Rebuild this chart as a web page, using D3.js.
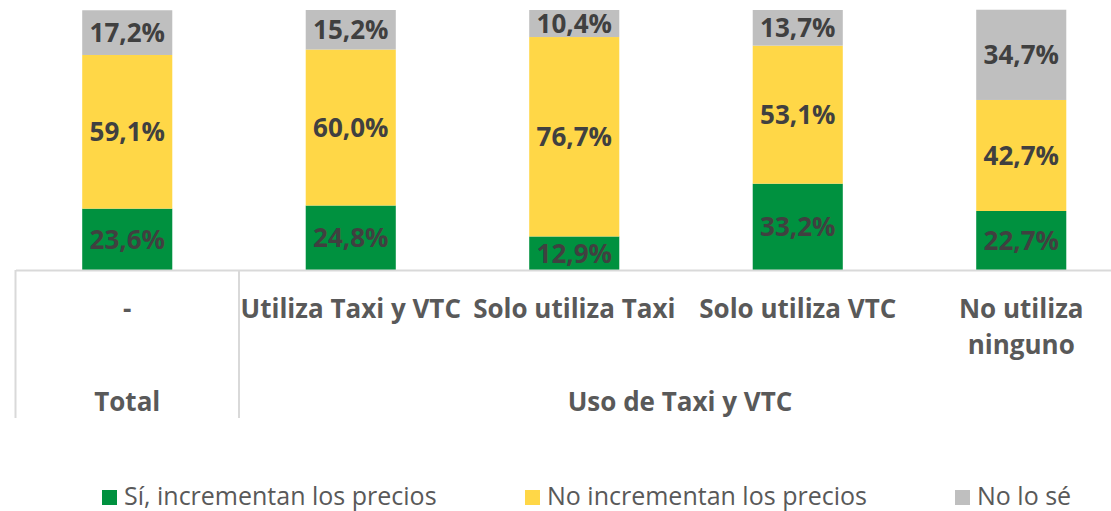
<!DOCTYPE html>
<html>
<head>
<meta charset="utf-8">
<script src="https://cdn.jsdelivr.net/npm/d3@7"></script>
<style>
  body { margin: 0; background: #fff; }
  svg { display: block; font-family: "Open Sans", sans-serif; }
</style>
</head>
<body>
<svg id="chart" width="1111" height="511"></svg>
<script>
// data
const categories = ["-", "Utiliza Taxi y VTC", "Solo utiliza Taxi", "Solo utiliza VTC", "No utiliza ninguno"];
const groupNames = ["Total", "Uso de Taxi y VTC"];
const groupSpans = [1, 4];
const seriesNames = ["Sí, incrementan los precios", "No incrementan los precios", "No lo sé"];
const siValues = [23.6, 24.8, 12.9, 33.2, 22.7];
const noValues = [59.1, 60.0, 76.7, 53.1, 42.7];
const nsValues = [17.2, 15.2, 10.4, 13.7, 34.7];

const colors = ["#00913f", "#ffd747", "#bfbfbf"];
const fmt = v => d3.format(".1f")(v).replace(".", ",") + "%";

const svg = d3.select("#chart");
const step = 223.5;
const x0 = 15.5;
const baseY = 270;

const x = d3.scaleBand()
    .domain(categories)
    .range([x0, x0 + step * categories.length])
    .paddingInner(0.597)
    .paddingOuter(0.2985);

const y = d3.scaleLinear().domain([0, 100]).range([baseY, 10]);

const rows = categories.map((c, i) => ({cat: c, si: siValues[i], no: noValues[i], ns: nsValues[i]}));
const stack = d3.stack().keys(["si", "no", "ns"])(rows);

const bars = svg.append("g");
stack.forEach((layer, k) => {
    const g = bars.append("g").attr("fill", colors[k]);
    g.selectAll("rect")
        .data(layer)
        .join("rect")
        .attr("x", d => x(d.data.cat))
        .attr("y", d => y(d[1]))
        .attr("width", x.bandwidth())
        .attr("height", d => y(d[0]) - y(d[1]));

    bars.append("g")
        .selectAll("text")
        .data(layer)
        .join("text")
        .attr("x", d => x(d.data.cat) + x.bandwidth() / 2)
        .attr("y", d => (y(d[0]) + y(d[1])) / 2)
        .attr("dy", "0.36em")
        .attr("text-anchor", "middle")
        .attr("font-size", "26px")
        .attr("font-weight", "bold")
        .attr("fill", "#404040")
        .text(d => fmt(d.data[layer.key]));
});

// category axis
const axis = svg.append("g")
    .attr("transform", `translate(0, ${baseY})`)
    .call(d3.axisBottom(x).tickSize(0).tickSizeOuter(0).tickPadding(0));
axis.select(".domain").attr("stroke", "#d9d9d9").attr("stroke-width", 2);
axis.selectAll(".tick text")
    .attr("font-family", "Open Sans")
    .attr("font-size", "26px")
    .attr("font-weight", "bold")
    .attr("fill", "#595959")
    .attr("y", 48)
    .attr("dy", 0)
    .each(function(d) {
        const t = d3.select(this);
        const words = d.split(" ");
        t.text(null);
        let line = [];
        let tspan = t.append("tspan").attr("x", 0);
        words.forEach(w => {
            line.push(w);
            tspan.text(line.join(" "));
            if (tspan.node().getComputedTextLength() > step - 2 && line.length > 1) {
                line.pop();
                tspan.text(line.join(" "));
                line = [w];
                tspan = t.append("tspan").attr("x", 0).attr("dy", "1.4em").text(w);
            }
        });
    });

// group separators and labels
let start = 0;
const sep = svg.append("g").attr("stroke", "#d9d9d9").attr("stroke-width", 2);
groupNames.forEach((name, i) => {
    const left = x0 + step * start;
    sep.append("line")
        .attr("x1", left).attr("x2", left)
        .attr("y1", baseY).attr("y2", 418);
    const first = categories[start];
    const last = categories[start + groupSpans[i] - 1];
    svg.append("text")
        .attr("x", (x(first) + x(last) + x.bandwidth()) / 2 - (groupSpans[i] > 1 ? 6 : 0))
        .attr("y", 411)
        .attr("text-anchor", "middle")
        .attr("font-size", "26px")
        .attr("font-weight", "bold")
        .attr("fill", "#595959")
        .text(name);
    start += groupSpans[i];
});

// legend
const legendX = [102, 525, 955];
const legend = svg.append("g").attr("transform", "translate(0, 505)");
seriesNames.forEach((s, i) => {
    const item = legend.append("g").attr("transform", `translate(${legendX[i]}, 0)`);
    item.append("rect")
        .attr("x", 0).attr("y", -15)
        .attr("width", 15).attr("height", 15)
        .attr("fill", colors[i]);
    item.append("text")
        .attr("x", 22)
        .attr("font-size", "25px")
        .attr("fill", "#595959")
        .text(s);
});
</script>
</body>
</html>
